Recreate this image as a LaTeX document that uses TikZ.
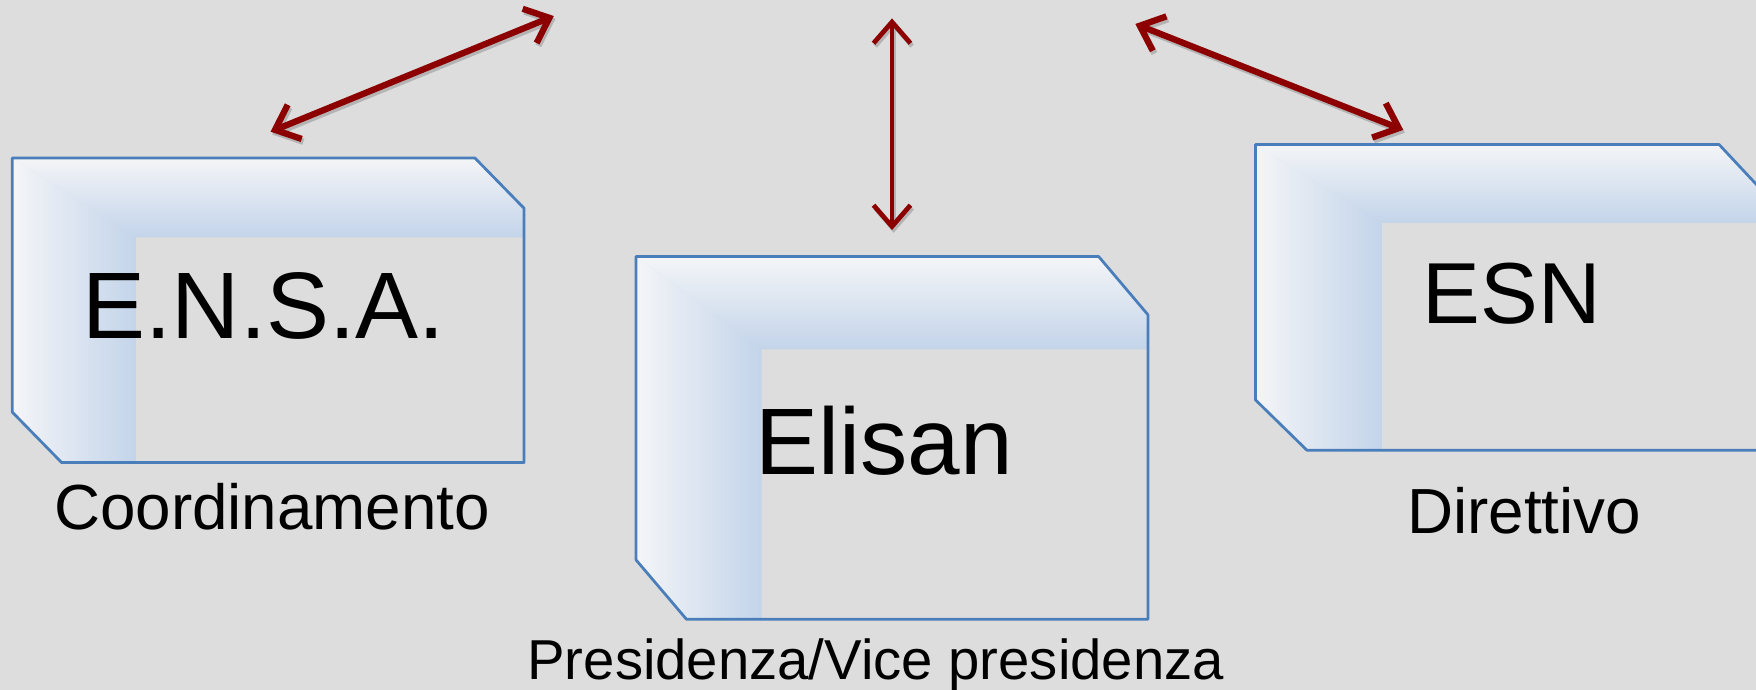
\documentclass[tikz,border=0pt]{standalone}
\usepackage{fontspec}
\setmainfont{Liberation Sans}
\usetikzlibrary{arrows.meta}
\definecolor{paper}{RGB}{221,221,221}
\definecolor{bandlight}{RGB}{244,245,247}
\definecolor{bandblue}{RGB}{195,212,234}
\definecolor{edgeblue}{RGB}{74,126,187}
\definecolor{arrowred}{RGB}{140,0,0}
\begin{document}
\begin{tikzpicture}[x=0.1mm,y=-0.1mm]
  \tikzset{TopBand/.style = {top color=bandlight,bottom color=bandblue},
           LeftBand/.style = {left color=bandlight,right color=bandblue},
           Frame/.style = {draw=edgeblue,line width=0.7pt,line join=round},
           Link/.style = {draw=arrowred,line width=1.6pt,<->,>={Straight Barb[length=1.9mm,width=3.3mm]}},
           LinkShadow/.style = {Link,draw=black!40,opacity=0.6},
           BoxLabel/.style = {anchor=base,inner sep=0pt,font=\fontsize{24}{28}\selectfont},
           RoleLabel/.style = {anchor=base,inner sep=0pt,font=\fontsize{16.2}{19}\selectfont}}
\path[use as bounding box,fill=paper] (0,0) rectangle (1568,616);
%
\shade[TopBand] (11,141) -- (424,141) -- (468,186) -- (468,212) -- (122,212) -- cycle;
\shade[LeftBand] (11,141) -- (122,212) -- (122,413) -- (55,413) -- (11,368) -- cycle;
\draw[Frame] (11,141) -- (424,141) -- (468,186) -- (468,413) -- (55,413) -- (11,368) -- cycle;
\shade[TopBand] (568,229) -- (981,229) -- (1025,281) -- (1025,312) -- (680,312) -- cycle;
\shade[LeftBand] (568,229) -- (680,312) -- (680,553) -- (613,553) -- (568,500) -- cycle;
\draw[Frame] (568,229) -- (981,229) -- (1025,281) -- (1025,553) -- (613,553) -- (568,500) -- cycle;
\shade[TopBand] (1121,129) -- (1535,129) -- (1578,175) -- (1578,199) -- (1234,199) -- cycle;
\shade[LeftBand] (1121,129) -- (1234,199) -- (1234,402) -- (1167,402) -- (1121,357) -- cycle;
\draw[Frame] (1121,129) -- (1535,129) -- (1578,175) -- (1578,402) -- (1167,402) -- (1121,357) -- cycle;
%
\node[BoxLabel] (ensa) at (235.5,302) {E.N.S.A.};
\node[BoxLabel] (elisan) at (789.5,424) {Elisan};
\node[BoxLabel,font=\fontsize{22}{26}\selectfont] (esn) at (1350,289) {ESN};
\node[RoleLabel] (coord) at (243,472.6) {Coordinamento};
\node[RoleLabel,font=\fontsize{14.3}{17}\selectfont] (pres) at (782,607) {Presidenza/Vice presidenza};
\node[RoleLabel] (dir) at (1361,476) {Direttivo};
%
\coordinate (a0) at (241.6,117.6);
\coordinate (a1) at (494.5,14.3);
\coordinate (b0) at (796.5,16.4);
\coordinate (b1) at (796.5,205.4);
\coordinate (c0) at (1013.8,21.4);
\coordinate (c1) at (1253,116);
%
\draw[LinkShadow] ([shift={(1.5,2.5)}]a0) -- ([shift={(1.5,2.5)}]a1);
\draw[LinkShadow,line width=1.2pt] ([shift={(1.5,2.5)}]b0) -- ([shift={(1.5,2.5)}]b1);
\draw[LinkShadow] ([shift={(1.5,2.5)}]c0) -- ([shift={(1.5,2.5)}]c1);
\draw[Link] (a0) -- (a1);
\draw[Link,line width=1.2pt] (b0) -- (b1);
\draw[Link] (c0) -- (c1);
\end{tikzpicture}
\end{document}
